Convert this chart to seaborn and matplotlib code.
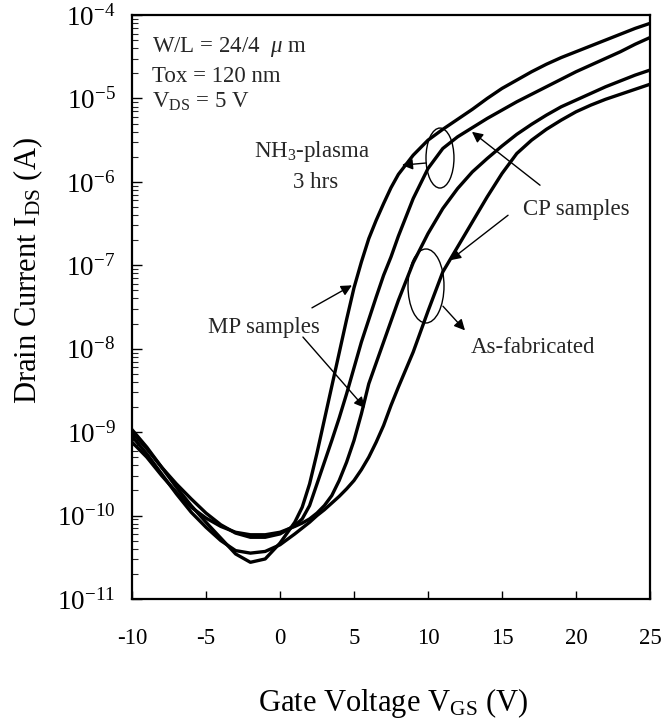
import numpy as np
import pandas as pd
import matplotlib
matplotlib.use("Agg")
import matplotlib.pyplot as plt
import seaborn as sns
from matplotlib.patches import Ellipse
from matplotlib.ticker import NullLocator

# ---------------- data ----------------
vgs = [-10, -9, -8, -7, -6, -5, -4, -3, -2, -1, 0, 1, 1.5, 2, 2.5, 3, 3.5, 4, 4.5,
       5, 5.5, 6, 6.5, 7, 7.5, 8, 9, 10, 11, 12, 13, 14, 15, 16, 17, 18, 19, 20,
       21, 22, 23, 24, 25]

# log10(I_DS [A])
log_nh3_mp = [-8.97, -9.18, -9.42, -9.66, -9.88, -10.08, -10.27, -10.46, -10.56, -10.52,
              -10.33, -10.08, -9.90, -9.62, -9.25, -8.85, -8.45, -8.05, -7.65,
              -7.27, -6.96, -6.68, -6.46, -6.26, -6.07, -5.91, -5.68, -5.50, -5.37,
              -5.25, -5.13, -5.00, -4.88, -4.78, -4.68, -4.59, -4.51, -4.44,
              -4.37, -4.30, -4.23, -4.16, -4.10]
log_nh3_cp = [-9.00, -9.20, -9.42, -9.62, -9.80, -9.97, -10.11, -10.21, -10.26, -10.26,
              -10.22, -10.12, -10.04, -9.88, -9.62, -9.36, -9.10, -8.83, -8.54,
              -8.23, -7.92, -7.65, -7.38, -7.12, -6.90, -6.65, -6.20, -5.84, -5.60,
              -5.46, -5.35, -5.24, -5.14, -5.04, -4.95, -4.86, -4.77, -4.68,
              -4.60, -4.52, -4.44, -4.35, -4.27]
log_asfab_mp = [-9.12, -9.30, -9.52, -9.72, -9.90, -10.03, -10.13, -10.20, -10.23, -10.23,
                -10.20, -10.13, -10.09, -10.04, -9.97, -9.88, -9.76, -9.58, -9.36,
                -9.10, -8.78, -8.42, -8.17, -7.92, -7.67, -7.42, -6.97, -6.62, -6.32,
                -6.08, -5.88, -5.72, -5.57, -5.43, -5.31, -5.20, -5.10, -5.02,
                -4.94, -4.86, -4.79, -4.72, -4.66]
log_asfab_cp = [-9.05, -9.26, -9.50, -9.74, -9.96, -10.14, -10.30, -10.42, -10.45, -10.43,
                -10.35, -10.22, -10.15, -10.08, -10.00, -9.93, -9.85, -9.77, -9.68,
                -9.58, -9.45, -9.30, -9.12, -8.92, -8.68, -8.46, -8.04, -7.55, -7.08,
                -6.78, -6.48, -6.18, -5.90, -5.66, -5.50, -5.37, -5.26, -5.16,
                -5.08, -5.01, -4.95, -4.89, -4.83]

series_names = ["NH3 MP", "NH3 CP", "As-fab MP", "As-fab CP"]
series_logs = [log_nh3_mp, log_nh3_cp, log_asfab_mp, log_asfab_cp]

x_ticks = [-10, -5, 0, 5, 10, 15, 20, 25]

# ---------------- style ----------------
sns.set_style("white")
plt.rcParams["font.family"] = ["Liberation Serif", "DejaVu Serif"]
plt.rcParams["mathtext.fontset"] = "custom"
plt.rcParams["mathtext.rm"] = "Liberation Serif"
plt.rcParams["mathtext.it"] = "Liberation Serif:italic"
plt.rcParams["mathtext.bf"] = "Liberation Serif:bold"
plt.rcParams["axes.unicode_minus"] = False

rows = []
for name, logs in zip(series_names, series_logs):
    for v, l in zip(vgs, logs):
        rows.append({"VGS": v, "IDS": 10.0 ** l, "sample": name})
df = pd.DataFrame(rows)

fig, ax = plt.subplots(figsize=(6.65, 7.19), dpi=100)
fig.subplots_adjust(left=0.1985, right=0.9774, bottom=0.1669, top=0.9791)

sns.lineplot(data=df, x="VGS", y="IDS", hue="sample", palette=["black"] * 4,
             linewidth=2.4, legend=False, estimator=None, ax=ax)

ax.set_yscale("log")
ax.set_xlim(-10, 25)
ax.set_ylim(1e-11, 1e-4)
ax.set_xticks(x_ticks)
ax.set_xticklabels([str(t) for t in x_ticks])
ax.xaxis.set_minor_locator(NullLocator())

for s in ax.spines.values():
    s.set_color("black")
    s.set_linewidth(1.6)

ax.tick_params(axis="x", which="major", direction="in", length=6, width=1,
               top=False, bottom=True, pad=21, labelsize=16.5, colors="black")
ax.tick_params(axis="y", which="major", direction="in", length=7, width=1,
               left=True, right=False, pad=12, labelsize=19.5, colors="black")
ax.tick_params(axis="y", which="minor", direction="in", length=4, width=0.8,
               left=True, right=False)

ax.set_xlabel("Gate Voltage V$_{\\rm GS}$ (V)", fontsize=22, color="black")
ax.xaxis.set_label_coords(0.504, -0.149)
ax.set_ylabel("Drain Current I$_{\\rm DS}$ (A)", fontsize=22, color="black")
ax.yaxis.set_label_coords(-0.168, 0.563)

# ---------------- annotations ----------------
fs = 16.5
ax.text(0.0386, 0.937, "W/L = 24/4  $\\mu$ m", transform=ax.transAxes, fontsize=fs, va="baseline")
ax.text(0.0386, 0.885, "Tox = 120 nm", transform=ax.transAxes, fontsize=fs, va="baseline")
ax.text(0.0386, 0.842, "V$_{\\rm DS}$ = 5 V", transform=ax.transAxes, fontsize=fs, va="baseline")

ax.text(2.16, 10 ** -5.70, "NH$_3$-plasma", ha="center", va="baseline", fontsize=fs)
ax.text(2.43, 10 ** -6.07, "3 hrs", ha="center", va="baseline", fontsize=fs)
ax.text(20.0, 10 ** -6.40, "CP samples", ha="center", va="baseline", fontsize=fs)
ax.text(17.1, 10 ** -8.05, "As-fabricated", ha="center", va="baseline", fontsize=fs)
ax.text(-1.08, 10 ** -7.81, "MP samples", ha="center", va="baseline", fontsize=fs)

ax.add_patch(Ellipse((0.5946, 0.7551), 0.054, 0.1027, transform=ax.transAxes,
                     fill=False, lw=1.0, ec="black"))
ax.add_patch(Ellipse((0.5676, 0.536), 0.0695, 0.1267, transform=ax.transAxes,
                     fill=False, lw=1.0, ec="black"))

arrow = dict(arrowstyle="-|>", color="black", lw=1.0, mutation_scale=16,
             shrinkA=0, shrinkB=0)
# (tail, tip) in data coordinates
arrows = [
    ((9.86, 10 ** -5.774), (8.24, 10 ** -5.80)),    # NH3-plasma
    ((17.57, 10 ** -6.04), (12.97, 10 ** -5.40)),   # CP upper
    ((15.41, 10 ** -6.40), (11.49, 10 ** -6.94)),   # CP lower
    ((11.01, 10 ** -7.49), (12.5, 10 ** -7.78)),    # As-fabricated
    ((2.16, 10 ** -7.51), (4.86, 10 ** -7.24)),     # MP upper
    ((1.55, 10 ** -7.86), (5.74, 10 ** -8.71)),     # MP lower
]
for tail, tip in arrows:
    ax.annotate("", xy=tip, xytext=tail, arrowprops=arrow)

fig.savefig("out.png", dpi=100)
